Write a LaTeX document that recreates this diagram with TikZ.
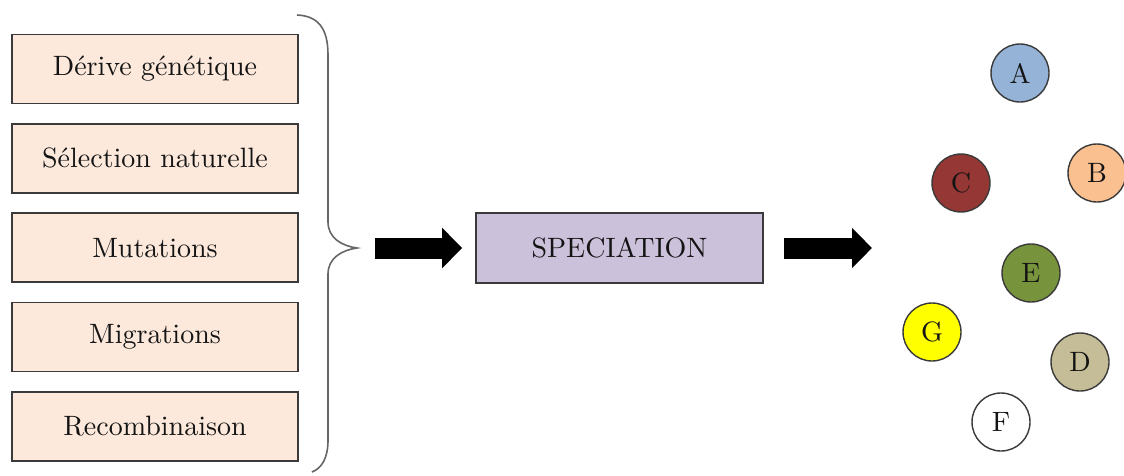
\documentclass[tikz,border=0pt]{standalone}
\usepackage{fontspec}
\setmainfont{lmroman10-regular.otf}
\usetikzlibrary{arrows.meta}
\definecolor{peach}{HTML}{FCE9DC}
\definecolor{lav}{HTML}{CCC1DA}
\definecolor{cA}{HTML}{95B3D7}
\definecolor{cB}{HTML}{FAC090}
\definecolor{cC}{HTML}{953735}
\definecolor{cD}{HTML}{C4BD97}
\definecolor{cE}{HTML}{77933C}
\definecolor{cG}{HTML}{FFFF00}
\definecolor{edge}{HTML}{3A3A3A}
\definecolor{ink}{HTML}{141414}
\begin{document}
\begin{tikzpicture}[x=1pt,y=-1pt,
  font=\fontsize{28}{34}\selectfont,
  factor/.style={draw=edge,line width=1.6pt,fill=peach,text=ink,minimum width=286pt,minimum height=69pt,inner sep=0pt},
  specbox/.style={draw=edge,line width=1.6pt,fill=lav,text=ink,minimum width=287pt,minimum height=70pt,inner sep=0pt},
  species/.style={circle,draw=edge,line width=1.4pt,text=ink,minimum size=58pt,inner sep=0pt},
  bigarrow/.style={line width=21pt,-{Triangle[length=20pt,width=39pt]},black},
  bracestyle/.style={draw=black!60,line width=1.6pt}]
\useasboundingbox (0,0) rectangle (1124,475);
\node[factor] (f1) at (155,69) {Dérive génétique};
\node[factor] (f2) at (155,158.3) {Sélection naturelle};
\node[factor] (f3) at (155,247.6) {Mutations};
\node[factor] (f4) at (155,337) {Migrations};
\node[factor] (f5) at (155,426.3) {Recombinaison};
% brace
\coordinate (btop) at (297,15);
\coordinate (btip) at (357,248);
\coordinate (bbot) at (312,472);
\draw[bracestyle] (btop) .. controls (318,16) and (328,28) .. (328,55)
  -- (328,222) .. controls (328,238) and (342,246) .. (btip)
  .. controls (342,250) and (328,258) .. (328,274)
  -- (328,440) .. controls (328,458) and (322,468) .. (bbot);
\node[specbox] (spec) at (619.5,248) {SPECIATION};
\coordinate (a1s) at (375,248);
\coordinate (a2e) at (872,248);
\draw[bigarrow,shorten >=13pt] (a1s) -- (spec.west);
\draw[bigarrow,shorten <=20pt] (spec.east) -- (a2e);
\node[species,fill=cA] (A) at (1020,73) {A};
\node[species,fill=cB] (B) at (1097,173) {B};
\node[species,fill=cC] (C) at (961,183) {C};
\node[species,fill=cE] (E) at (1031,273) {E};
\node[species,fill=cG] (G) at (932,332) {G};
\node[species,fill=cD] (D) at (1080,362) {D};
\node[species,fill=white] (F) at (1001,422) {F};
\end{tikzpicture}
\end{document}
